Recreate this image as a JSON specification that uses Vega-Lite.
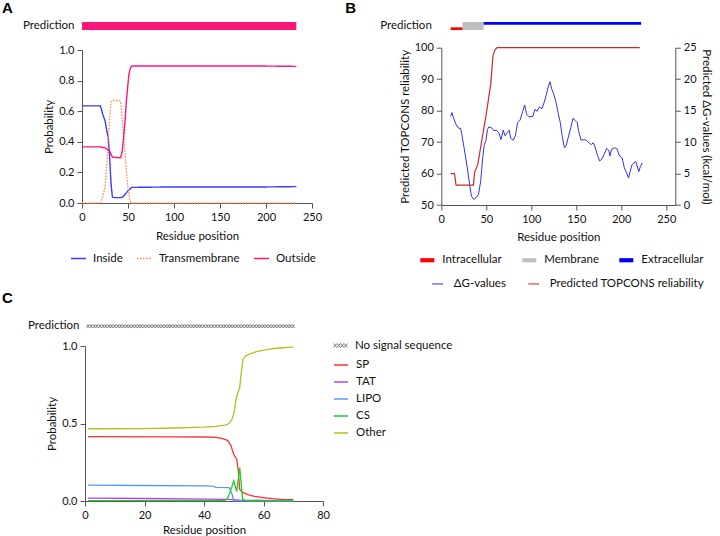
{
  "$schema": "https://vega.github.io/schema/vega-lite/v6.json",
  "padding": {"left": 2, "top": 0, "right": 2, "bottom": 0},
  "background": "white",
  "config": {
    "font": "Lato",
    "view": {"stroke": null},
    "axis": {"domainColor": "#555555", "tickColor": "#555555", "labelColor": "#111111", "titleColor": "#111111", "labelFont": "Lato", "titleFont": "Lato", "labelFontSize": 11, "titleFontSize": 11.5, "titleFontWeight": "normal", "grid": false, "tickSize": 5, "labelPadding": 3, "labelFlush": false, "labelOverlap": false},
    "legend": {"labelFont": "Lato", "labelFontSize": 11.5, "labelColor": "#111111"},
    "title": {"font": "Liberation Sans", "fontSize": 15, "fontWeight": "bold", "anchor": "start", "frame": "group", "color": "#000000"}
  },
  "datasets": {
    "predA": [{"track": "Prediction", "start": 0, "end": 233, "state": "Outside"}],
    "predB": [
      {"track": "Prediction", "start": 10.4, "end": 23.5, "state": "Intracellular", "side": "in"},
      {"track": "Prediction", "start": 23.5, "end": 47, "state": "Membrane", "side": "mid"},
      {"track": "Prediction", "start": 47, "end": 222, "state": "Extracellular", "side": "out"}
    ],
    "a": [
      {"pos": 0, "series": "Inside", "p": 0.635}, {"pos": 20, "series": "Inside", "p": 0.635}, {"pos": 23, "series": "Inside", "p": 0.57}, {"pos": 25, "series": "Inside", "p": 0.54}, {"pos": 27, "series": "Inside", "p": 0.47}, {"pos": 28.5, "series": "Inside", "p": 0.43}, {"pos": 30, "series": "Inside", "p": 0.3}, {"pos": 31.5, "series": "Inside", "p": 0.13}, {"pos": 33, "series": "Inside", "p": 0.04}, {"pos": 35, "series": "Inside", "p": 0.035}, {"pos": 43, "series": "Inside", "p": 0.035}, {"pos": 46, "series": "Inside", "p": 0.05}, {"pos": 50, "series": "Inside", "p": 0.08}, {"pos": 54, "series": "Inside", "p": 0.102}, {"pos": 100, "series": "Inside", "p": 0.105}, {"pos": 200, "series": "Inside", "p": 0.105}, {"pos": 233, "series": "Inside", "p": 0.107},
      {"pos": 0, "series": "Transmembrane", "p": 0}, {"pos": 20, "series": "Transmembrane", "p": 0}, {"pos": 22, "series": "Transmembrane", "p": 0.03}, {"pos": 25, "series": "Transmembrane", "p": 0.1}, {"pos": 27, "series": "Transmembrane", "p": 0.25}, {"pos": 28.5, "series": "Transmembrane", "p": 0.41}, {"pos": 30, "series": "Transmembrane", "p": 0.55}, {"pos": 31.5, "series": "Transmembrane", "p": 0.66}, {"pos": 33, "series": "Transmembrane", "p": 0.67}, {"pos": 40, "series": "Transmembrane", "p": 0.67}, {"pos": 42, "series": "Transmembrane", "p": 0.665}, {"pos": 44, "series": "Transmembrane", "p": 0.52}, {"pos": 46.6, "series": "Transmembrane", "p": 0.34}, {"pos": 48, "series": "Transmembrane", "p": 0.22}, {"pos": 50, "series": "Transmembrane", "p": 0.1}, {"pos": 52, "series": "Transmembrane", "p": 0.02}, {"pos": 53, "series": "Transmembrane", "p": 0}, {"pos": 233, "series": "Transmembrane", "p": 0},
      {"pos": 0, "series": "Outside", "p": 0.367}, {"pos": 20, "series": "Outside", "p": 0.367}, {"pos": 25, "series": "Outside", "p": 0.36}, {"pos": 30, "series": "Outside", "p": 0.34}, {"pos": 33, "series": "Outside", "p": 0.3}, {"pos": 42, "series": "Outside", "p": 0.295}, {"pos": 43.5, "series": "Outside", "p": 0.33}, {"pos": 45, "series": "Outside", "p": 0.41}, {"pos": 47, "series": "Outside", "p": 0.55}, {"pos": 48, "series": "Outside", "p": 0.65}, {"pos": 50, "series": "Outside", "p": 0.78}, {"pos": 51, "series": "Outside", "p": 0.84}, {"pos": 52.5, "series": "Outside", "p": 0.88}, {"pos": 54, "series": "Outside", "p": 0.895}, {"pos": 100, "series": "Outside", "p": 0.895}, {"pos": 200, "series": "Outside", "p": 0.895}, {"pos": 233, "series": "Outside", "p": 0.893}
    ],
    "topcons": [
      {"pos": 10.4, "rel": 60}, {"pos": 14.6, "rel": 60}, {"pos": 16.4, "rel": 56.3}, {"pos": 35.7, "rel": 56.3}, {"pos": 37, "rel": 60.3}, {"pos": 40.6, "rel": 63}, {"pos": 45, "rel": 70.5}, {"pos": 50, "rel": 79}, {"pos": 55, "rel": 88.5}, {"pos": 57.4, "rel": 97.5}, {"pos": 60, "rel": 99.5}, {"pos": 62, "rel": 100}, {"pos": 220.5, "rel": 100}
    ],
    "dg": [
      {"pos": 10.4, "dg": 14.1}, {"pos": 11.8, "dg": 14.7}, {"pos": 13.6, "dg": 13.8}, {"pos": 16.4, "dg": 12.8}, {"pos": 19.3, "dg": 12.2}, {"pos": 21.4, "dg": 12.2}, {"pos": 22.8, "dg": 11.2}, {"pos": 25.3, "dg": 9.1}, {"pos": 28.9, "dg": 5.9}, {"pos": 31.4, "dg": 3.3}, {"pos": 33.5, "dg": 1.4}, {"pos": 36, "dg": 0.9}, {"pos": 38.5, "dg": 1.15}, {"pos": 41.3, "dg": 1.7}, {"pos": 43.8, "dg": 3.8}, {"pos": 46, "dg": 7.5}, {"pos": 47.8, "dg": 9.6}, {"pos": 49.5, "dg": 10.2}, {"pos": 51.3, "dg": 12.0}, {"pos": 52.7, "dg": 12.4}, {"pos": 55.6, "dg": 12.3}, {"pos": 58.4, "dg": 11.8}, {"pos": 60.9, "dg": 11.9}, {"pos": 63.8, "dg": 11.5}, {"pos": 66.3, "dg": 10.4}, {"pos": 68.8, "dg": 11.9}, {"pos": 70.9, "dg": 11.0}, {"pos": 73.4, "dg": 11.5}, {"pos": 75.5, "dg": 11.9}, {"pos": 77, "dg": 10.6}, {"pos": 79.8, "dg": 10.3}, {"pos": 82.3, "dg": 11.0}, {"pos": 84.8, "dg": 13.1}, {"pos": 87.6, "dg": 13.5}, {"pos": 90.5, "dg": 14.9}, {"pos": 92.6, "dg": 15.9}, {"pos": 94.8, "dg": 14.4}, {"pos": 97.6, "dg": 14.0}, {"pos": 101.9, "dg": 14.1}, {"pos": 104, "dg": 15.2}, {"pos": 106.5, "dg": 14.9}, {"pos": 109, "dg": 15.6}, {"pos": 111.9, "dg": 15.3}, {"pos": 114.3, "dg": 16.3}, {"pos": 116.8, "dg": 17.6}, {"pos": 119, "dg": 18.9}, {"pos": 120.8, "dg": 19.6}, {"pos": 122.5, "dg": 18.5}, {"pos": 125, "dg": 17.6}, {"pos": 127.5, "dg": 16.3}, {"pos": 129.7, "dg": 14.7}, {"pos": 132.2, "dg": 13.1}, {"pos": 134.6, "dg": 10.7}, {"pos": 136.8, "dg": 9.1}, {"pos": 138.6, "dg": 9.4}, {"pos": 141, "dg": 10.7}, {"pos": 143.9, "dg": 12.3}, {"pos": 146.4, "dg": 13.8}, {"pos": 148.9, "dg": 13.4}, {"pos": 151, "dg": 13.1}, {"pos": 152.5, "dg": 11.8}, {"pos": 155.3, "dg": 10.3}, {"pos": 158.2, "dg": 10.4}, {"pos": 161, "dg": 10.3}, {"pos": 163.9, "dg": 9.9}, {"pos": 166.7, "dg": 9.6}, {"pos": 168.8, "dg": 9.9}, {"pos": 171, "dg": 9.2}, {"pos": 173.1, "dg": 8.05}, {"pos": 176, "dg": 7.0}, {"pos": 178.5, "dg": 7.3}, {"pos": 180.9, "dg": 8.05}, {"pos": 183.8, "dg": 9.0}, {"pos": 185.9, "dg": 8.7}, {"pos": 187.4, "dg": 7.8}, {"pos": 189.1, "dg": 8.85}, {"pos": 192.7, "dg": 9.1}, {"pos": 195.2, "dg": 8.95}, {"pos": 198, "dg": 7.8}, {"pos": 200.9, "dg": 7.5}, {"pos": 203.4, "dg": 5.9}, {"pos": 205.9, "dg": 5.1}, {"pos": 208, "dg": 4.3}, {"pos": 209.8, "dg": 5.3}, {"pos": 211.6, "dg": 6.35}, {"pos": 214.1, "dg": 6.7}, {"pos": 216.2, "dg": 6.9}, {"pos": 217.6, "dg": 6.2}, {"pos": 219.4, "dg": 5.3}, {"pos": 221.2, "dg": 6.1}, {"pos": 223.3, "dg": 6.7}
    ],
    "predC": [
      {"pos": 1, "track": "Prediction", "kind": "No signal sequence"}, {"pos": 2, "track": "Prediction", "kind": "No signal sequence"}, {"pos": 3, "track": "Prediction", "kind": "No signal sequence"}, {"pos": 4, "track": "Prediction", "kind": "No signal sequence"}, {"pos": 5, "track": "Prediction", "kind": "No signal sequence"}, {"pos": 6, "track": "Prediction", "kind": "No signal sequence"}, {"pos": 7, "track": "Prediction", "kind": "No signal sequence"}, {"pos": 8, "track": "Prediction", "kind": "No signal sequence"}, {"pos": 9, "track": "Prediction", "kind": "No signal sequence"}, {"pos": 10, "track": "Prediction", "kind": "No signal sequence"},
      {"pos": 11, "track": "Prediction", "kind": "No signal sequence"}, {"pos": 12, "track": "Prediction", "kind": "No signal sequence"}, {"pos": 13, "track": "Prediction", "kind": "No signal sequence"}, {"pos": 14, "track": "Prediction", "kind": "No signal sequence"}, {"pos": 15, "track": "Prediction", "kind": "No signal sequence"}, {"pos": 16, "track": "Prediction", "kind": "No signal sequence"}, {"pos": 17, "track": "Prediction", "kind": "No signal sequence"}, {"pos": 18, "track": "Prediction", "kind": "No signal sequence"}, {"pos": 19, "track": "Prediction", "kind": "No signal sequence"}, {"pos": 20, "track": "Prediction", "kind": "No signal sequence"},
      {"pos": 21, "track": "Prediction", "kind": "No signal sequence"}, {"pos": 22, "track": "Prediction", "kind": "No signal sequence"}, {"pos": 23, "track": "Prediction", "kind": "No signal sequence"}, {"pos": 24, "track": "Prediction", "kind": "No signal sequence"}, {"pos": 25, "track": "Prediction", "kind": "No signal sequence"}, {"pos": 26, "track": "Prediction", "kind": "No signal sequence"}, {"pos": 27, "track": "Prediction", "kind": "No signal sequence"}, {"pos": 28, "track": "Prediction", "kind": "No signal sequence"}, {"pos": 29, "track": "Prediction", "kind": "No signal sequence"}, {"pos": 30, "track": "Prediction", "kind": "No signal sequence"},
      {"pos": 31, "track": "Prediction", "kind": "No signal sequence"}, {"pos": 32, "track": "Prediction", "kind": "No signal sequence"}, {"pos": 33, "track": "Prediction", "kind": "No signal sequence"}, {"pos": 34, "track": "Prediction", "kind": "No signal sequence"}, {"pos": 35, "track": "Prediction", "kind": "No signal sequence"}, {"pos": 36, "track": "Prediction", "kind": "No signal sequence"}, {"pos": 37, "track": "Prediction", "kind": "No signal sequence"}, {"pos": 38, "track": "Prediction", "kind": "No signal sequence"}, {"pos": 39, "track": "Prediction", "kind": "No signal sequence"}, {"pos": 40, "track": "Prediction", "kind": "No signal sequence"},
      {"pos": 41, "track": "Prediction", "kind": "No signal sequence"}, {"pos": 42, "track": "Prediction", "kind": "No signal sequence"}, {"pos": 43, "track": "Prediction", "kind": "No signal sequence"}, {"pos": 44, "track": "Prediction", "kind": "No signal sequence"}, {"pos": 45, "track": "Prediction", "kind": "No signal sequence"}, {"pos": 46, "track": "Prediction", "kind": "No signal sequence"}, {"pos": 47, "track": "Prediction", "kind": "No signal sequence"}, {"pos": 48, "track": "Prediction", "kind": "No signal sequence"}, {"pos": 49, "track": "Prediction", "kind": "No signal sequence"}, {"pos": 50, "track": "Prediction", "kind": "No signal sequence"},
      {"pos": 51, "track": "Prediction", "kind": "No signal sequence"}, {"pos": 52, "track": "Prediction", "kind": "No signal sequence"}, {"pos": 53, "track": "Prediction", "kind": "No signal sequence"}, {"pos": 54, "track": "Prediction", "kind": "No signal sequence"}, {"pos": 55, "track": "Prediction", "kind": "No signal sequence"}, {"pos": 56, "track": "Prediction", "kind": "No signal sequence"}, {"pos": 57, "track": "Prediction", "kind": "No signal sequence"}, {"pos": 58, "track": "Prediction", "kind": "No signal sequence"}, {"pos": 59, "track": "Prediction", "kind": "No signal sequence"}, {"pos": 60, "track": "Prediction", "kind": "No signal sequence"},
      {"pos": 61, "track": "Prediction", "kind": "No signal sequence"}, {"pos": 62, "track": "Prediction", "kind": "No signal sequence"}, {"pos": 63, "track": "Prediction", "kind": "No signal sequence"}, {"pos": 64, "track": "Prediction", "kind": "No signal sequence"}, {"pos": 65, "track": "Prediction", "kind": "No signal sequence"}, {"pos": 66, "track": "Prediction", "kind": "No signal sequence"}, {"pos": 67, "track": "Prediction", "kind": "No signal sequence"}, {"pos": 68, "track": "Prediction", "kind": "No signal sequence"}, {"pos": 69, "track": "Prediction", "kind": "No signal sequence"}, {"pos": 70, "track": "Prediction", "kind": "No signal sequence"}
    ],
    "c": [
      {"pos": 1, "series": "SP", "p": 0.415}, {"pos": 30, "series": "SP", "p": 0.414}, {"pos": 40, "series": "SP", "p": 0.413}, {"pos": 44, "series": "SP", "p": 0.41}, {"pos": 46, "series": "SP", "p": 0.404}, {"pos": 47, "series": "SP", "p": 0.398}, {"pos": 48, "series": "SP", "p": 0.39}, {"pos": 49, "series": "SP", "p": 0.36}, {"pos": 50, "series": "SP", "p": 0.3}, {"pos": 51, "series": "SP", "p": 0.27}, {"pos": 51.5, "series": "SP", "p": 0.2}, {"pos": 52, "series": "SP", "p": 0.075}, {"pos": 53, "series": "SP", "p": 0.055}, {"pos": 55, "series": "SP", "p": 0.04}, {"pos": 57, "series": "SP", "p": 0.03}, {"pos": 60, "series": "SP", "p": 0.022}, {"pos": 63, "series": "SP", "p": 0.015}, {"pos": 66, "series": "SP", "p": 0.011}, {"pos": 70, "series": "SP", "p": 0.008},
      {"pos": 1, "series": "TAT", "p": 0.018}, {"pos": 20, "series": "TAT", "p": 0.016}, {"pos": 40, "series": "TAT", "p": 0.012}, {"pos": 48, "series": "TAT", "p": 0.01}, {"pos": 52, "series": "TAT", "p": 0.006}, {"pos": 60, "series": "TAT", "p": 0.004}, {"pos": 70, "series": "TAT", "p": 0.002},
      {"pos": 1, "series": "LIPO", "p": 0.102}, {"pos": 20, "series": "LIPO", "p": 0.1}, {"pos": 40, "series": "LIPO", "p": 0.097}, {"pos": 43, "series": "LIPO", "p": 0.096}, {"pos": 44, "series": "LIPO", "p": 0.088}, {"pos": 48.5, "series": "LIPO", "p": 0.086}, {"pos": 49.5, "series": "LIPO", "p": 0.04}, {"pos": 50, "series": "LIPO", "p": 0.003}, {"pos": 55, "series": "LIPO", "p": 0.001}, {"pos": 70, "series": "LIPO", "p": 0},
      {"pos": 1, "series": "CS", "p": 0.002}, {"pos": 47, "series": "CS", "p": 0.002}, {"pos": 48, "series": "CS", "p": 0.02}, {"pos": 49, "series": "CS", "p": 0.07}, {"pos": 50, "series": "CS", "p": 0.13}, {"pos": 51, "series": "CS", "p": 0.06}, {"pos": 52, "series": "CS", "p": 0.215}, {"pos": 53, "series": "CS", "p": 0.01}, {"pos": 54, "series": "CS", "p": 0.002}, {"pos": 70, "series": "CS", "p": 0.001},
      {"pos": 1, "series": "Other", "p": 0.466}, {"pos": 20, "series": "Other", "p": 0.467}, {"pos": 30, "series": "Other", "p": 0.471}, {"pos": 40, "series": "Other", "p": 0.476}, {"pos": 44, "series": "Other", "p": 0.481}, {"pos": 47, "series": "Other", "p": 0.49}, {"pos": 48.5, "series": "Other", "p": 0.5}, {"pos": 49.5, "series": "Other", "p": 0.53}, {"pos": 50.2, "series": "Other", "p": 0.58}, {"pos": 50.8, "series": "Other", "p": 0.66}, {"pos": 51.4, "series": "Other", "p": 0.7}, {"pos": 52, "series": "Other", "p": 0.73}, {"pos": 52.6, "series": "Other", "p": 0.84}, {"pos": 53.1, "series": "Other", "p": 0.915}, {"pos": 54, "series": "Other", "p": 0.935}, {"pos": 55, "series": "Other", "p": 0.946}, {"pos": 57.6, "series": "Other", "p": 0.963}, {"pos": 61, "series": "Other", "p": 0.976}, {"pos": 65, "series": "Other", "p": 0.987}, {"pos": 70, "series": "Other", "p": 0.993}
    ]
  },
  "hconcat": [
    {
      "vconcat": [
        {
          "width": 230, "height": 8,
          "title": {"text": "A", "dx": -80},
          "data": {"name": "predA"},
          "mark": {"type": "bar", "color": "#FF1477"},
          "encoding": {
            "y": {"field": "track", "type": "nominal", "title": null, "scale": {"paddingInner": 0, "paddingOuter": 0}, "axis": {"domain": false, "ticks": false, "labelPadding": 8, "labelFontSize": 11.5}},
            "x": {"field": "start", "type": "quantitative", "scale": {"domain": [0, 250]}, "axis": null},
            "x2": {"field": "end"}
          }
        },
        {
          "width": 230, "height": 153,
          "data": {"name": "a"},
          "mark": {"type": "line", "strokeWidth": 1.4},
          "encoding": {
            "x": {"field": "pos", "type": "quantitative", "scale": {"domain": [0, 250]}, "axis": {"values": [0, 50, 100, 150, 200, 250], "title": "Residue position", "titlePadding": 8}},
            "y": {"field": "p", "type": "quantitative", "scale": {"domain": [0, 1]}, "axis": {"values": [0, 0.2, 0.4, 0.6, 0.8, 1], "format": ".1f", "title": "Probability"}},
            "color": {"field": "series", "type": "nominal", "sort": null, "scale": {"domain": ["Inside", "Transmembrane", "Outside"], "range": ["#3B3BFF", "#FF8A4F", "#FF1477"]},
              "legend": {"orient": "none", "legendX": -12, "legendY": 200, "direction": "horizontal", "title": null, "symbolType": "stroke", "symbolSize": 225, "symbolStrokeWidth": 1.5, "labelOffset": 6, "columnPadding": 11, "padding": 0}},
            "strokeDash": {"field": "series", "type": "nominal", "sort": null, "scale": {"domain": ["Inside", "Transmembrane", "Outside"], "range": [[1, 0], [1.5, 1.5], [1, 0]]},
              "legend": {"orient": "none", "legendX": -12, "legendY": 200, "direction": "horizontal", "title": null, "symbolType": "stroke", "symbolSize": 225, "symbolStrokeWidth": 1.5, "labelOffset": 6, "columnPadding": 11, "padding": 0}}
          }
        },
        {
          "width": 241, "height": 102.7,
          "title": {"text": "C", "dx": -80, "dy": 87},
          "data": {"name": "predC"},
          "mark": {"type": "text", "text": "x", "fontSize": 6.5, "font": "DejaVu Sans"},
          "encoding": {
            "x": {"field": "pos", "type": "quantitative", "scale": {"domain": [0, 80], "range": [3, 241]}, "axis": null},
            "y": {"field": "track", "type": "nominal", "title": null, "scale": {"type": "point", "padding": 0, "align": 1}, "axis": {"domain": false, "ticks": false, "labelPadding": 6, "offset": -3, "labelFontSize": 11.5}},
            "color": {"field": "kind", "type": "nominal", "scale": {"range": ["#444444"]},
              "legend": {"orient": "none", "legendX": 251, "legendY": 115, "title": null, "symbolType": "M-1,-0.28L-0.5,0.28M-1,0.28L-0.5,-0.28M-0.5,-0.28L0,0.28M-0.5,0.28L0,-0.28M0,-0.28L0.5,0.28M0,0.28L0.5,-0.28M0.5,-0.28L1,0.28M0.5,0.28L1,-0.28", "symbolSize": 196, "labelOffset": 7, "padding": 0,
                "encode": {"symbols": {"update": {"fill": {"value": "transparent"}, "stroke": {"value": "#444444"}, "strokeWidth": {"value": 0.7}}}}}}
          }
        },
        {
          "width": 241, "height": 155,
          "data": {"name": "c"},
          "mark": {"type": "line", "strokeWidth": 1.3},
          "encoding": {
            "x": {"field": "pos", "type": "quantitative", "scale": {"domain": [0, 80], "range": [3, 241]}, "axis": {"values": [0, 20, 40, 60, 80], "title": "Residue position", "titlePadding": 4}},
            "y": {"field": "p", "type": "quantitative", "scale": {"domain": [0, 1]}, "axis": {"values": [0, 0.5, 1], "format": ".1f", "title": "Probability", "offset": -3}},
            "stroke": {"field": "series", "type": "nominal", "sort": null, "scale": {"domain": ["SP", "TAT", "LIPO", "CS", "Other"], "range": ["#FF3030", "#B040F0", "#5599FF", "#22CC22", "#BBBB22"]},
              "legend": {"orient": "none", "legendX": 251, "legendY": 11, "direction": "vertical", "title": null, "symbolType": "stroke", "symbolSize": 196, "symbolStrokeWidth": 1.5, "labelOffset": 7, "rowPadding": 3, "padding": 0}}
          }
        }
      ],
      "spacing": 20,
      "bounds": "flush",
      "resolve": {"scale": {"color": "independent", "stroke": "independent", "strokeDash": "independent"}, "legend": {"color": "independent", "stroke": "independent", "strokeDash": "independent"}}
    },
    {
      "vconcat": [
        {
          "width": 234, "height": 8,
          "title": {"text": "B", "dx": -96},
          "data": {"name": "predB"},
          "layer": [
            {
              "transform": [{"filter": "datum.state === 'Membrane'"}],
              "mark": {"type": "bar"},
              "encoding": {
                "y": {"field": "track", "type": "nominal", "title": null, "scale": {"paddingInner": 0, "paddingOuter": 0}, "axis": {"domain": false, "ticks": false, "labelPadding": 10, "labelFontSize": 11.5}},
                "x": {"field": "start", "type": "quantitative", "scale": {"domain": [0, 250]}, "axis": null},
                "x2": {"field": "end"},
                "color": {"field": "state", "type": "nominal", "scale": {"domain": ["Intracellular", "Membrane", "Extracellular"], "range": ["#FF0000", "#BFBFBF", "#0000FF"]},
                  "legend": {"orient": "none", "legendX": -21, "legendY": 231, "direction": "horizontal", "title": null, "symbolType": "M-1,-0.3L1,-0.3L1,0.3L-1,0.3Z", "symbolSize": 196, "symbolStrokeWidth": 0, "labelOffset": 8, "columnPadding": 20, "padding": 0}}
              }
            },
            {
              "transform": [{"filter": "datum.state !== 'Membrane'"}],
              "mark": {"type": "bar"},
              "encoding": {
                "y": {"field": "track", "type": "nominal"},
                "yOffset": {"field": "side", "type": "nominal", "scale": {"domain": ["out", "mid", "in"], "paddingInner": 0, "paddingOuter": 0}},
                "x": {"field": "start", "type": "quantitative"},
                "x2": {"field": "end"},
                "color": {"field": "state", "type": "nominal"}
              }
            }
          ]
        },
        {
          "width": 234, "height": 157.3,
          "layer": [
            {
              "data": {"name": "dg"},
              "mark": {"type": "line", "strokeWidth": 1},
              "encoding": {
                "x": {"field": "pos", "type": "quantitative", "scale": {"domain": [0, 250]}, "axis": {"values": [0, 50, 100, 150, 200, 250], "title": "Residue position", "titlePadding": 7}},
                "y": {"field": "dg", "type": "quantitative", "scale": {"domain": [0, 25]}, "axis": {"orient": "right", "values": [0, 5, 10, 15, 20, 25], "title": "Predicted ΔG-values (kcal/mol)"}},
                "color": {"datum": "ΔG-values", "type": "nominal", "scale": {"domain": ["ΔG-values", "Predicted TOPCONS reliability"], "range": ["#3333DD", "#C8282A"]},
                  "legend": {"orient": "none", "legendX": -9.6, "legendY": 230, "direction": "horizontal", "title": null, "symbolType": "stroke", "symbolSize": 121, "symbolStrokeWidth": 1, "labelOffset": 10, "columnPadding": 19, "padding": 0}}
              }
            },
            {
              "data": {"name": "topcons"},
              "mark": {"type": "line", "strokeWidth": 1.2},
              "encoding": {
                "x": {"field": "pos", "type": "quantitative"},
                "y": {"field": "rel", "type": "quantitative", "scale": {"domain": [50, 100], "zero": false}, "axis": {"orient": "left", "values": [50, 60, 70, 80, 90, 100], "title": "Predicted TOPCONS reliability"}},
                "color": {"datum": "Predicted TOPCONS reliability", "type": "nominal"}
              }
            }
          ],
          "resolve": {"scale": {"y": "independent"}}
        }
      ],
      "spacing": 17.7,
      "bounds": "flush",
      "resolve": {"scale": {"color": "independent"}, "legend": {"color": "independent"}}
    }
  ],
  "spacing": 359.3,
  "bounds": "flush",
  "resolve": {"scale": {"color": "independent", "stroke": "independent", "strokeDash": "independent"}, "legend": {"color": "independent", "stroke": "independent", "strokeDash": "independent"}}
}
